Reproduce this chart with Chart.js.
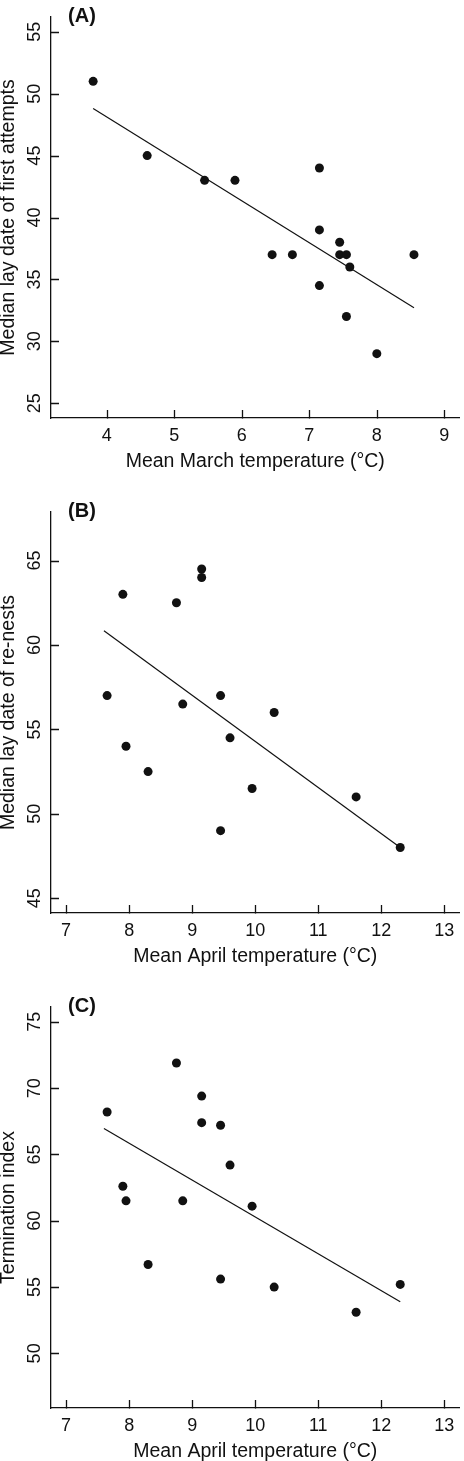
<!DOCTYPE html>
<html>
<head>
<meta charset="utf-8">
<script src="https://cdn.jsdelivr.net/npm/chart.js@4/dist/chart.umd.min.js"></script>
<style>
  html, body { margin: 0; padding: 0; background: #fff; overflow: hidden; }
  body { width: 464px; height: 1461px; position: relative; }
  canvas { position: absolute; left: 0; }
</style>
</head>
<body>
<canvas id="panelA" width="464" height="478" style="top:0px"></canvas>
<canvas id="panelB" width="464" height="478" style="top:495px"></canvas>
<canvas id="panelC" width="464" height="478" style="top:990px"></canvas>
<script>
// (A) first attempts vs March temperature
const marchTemp = [3.8, 4.6, 5.45, 5.9, 6.45, 6.75, 7.15, 7.15, 7.15, 7.45, 7.45, 7.55, 7.55, 7.6, 8.0, 8.55];
const firstLayDate = [51, 45, 43, 43, 37, 37, 44, 39, 34.5, 38, 37, 37, 32, 36, 29, 37];
const fitAX = [3.8, 8.55];
const fitAY = [48.8, 32.7];

// (B) and (C) share the April temperatures
const aprilTemp = [7.65, 7.9, 7.95, 8.3, 8.75, 8.85, 9.15, 9.15, 9.45, 9.45, 9.6, 9.95, 10.3, 11.6, 12.3];
const renestLayDate = [57, 63, 54, 52.5, 62.5, 56.5, 64.5, 64, 57, 49, 54.5, 51.5, 56, 51, 48];
const terminationIndex = [68.2, 62.6, 61.5, 56.7, 71.9, 61.5, 69.4, 67.4, 67.2, 55.6, 64.2, 61.1, 55.0, 53.1, 55.2];
const fitBX = [7.6, 12.3];
const fitBY = [60.85, 48.0];
const fitCX = [7.6, 12.3];
const fitCY = [66.95, 53.9];

const xTicksA = [4, 5, 6, 7, 8, 9];
const yTicksA = [25, 30, 35, 40, 45, 50, 55];
const xTicksApril = [7, 8, 9, 10, 11, 12, 13];
const yTicksB = [45, 50, 55, 60, 65];
const yTicksC = [50, 55, 60, 65, 70, 75];

const FONT = '"Liberation Sans", Arial, Helvetica, sans-serif';
const INK = '#111';

const toPoints = (xs, ys) => xs.map((x, i) => ({ x: x, y: ys[i] }));

// R-style axis: limits padded by 4%
const padRange = (lo, hi) => {
  const d = (hi - lo) * 0.04;
  return { min: lo - d, max: hi + d };
};

// panel letter and inward tick marks
const panelDecor = {
  id: 'panelDecor',
  afterDraw(chart, args, opts) {
    const { ctx, chartArea, scales } = chart;
    ctx.save();
    ctx.strokeStyle = INK;
    ctx.lineWidth = 1.3;
    ctx.beginPath();
    scales.x.ticks.forEach(t => {
      const px = Math.round(scales.x.getPixelForValue(t.value)) + 0.5;
      ctx.moveTo(px, chartArea.bottom + 0.5);
      ctx.lineTo(px, chartArea.bottom - 8);
    });
    scales.y.ticks.forEach(t => {
      const py = Math.round(scales.y.getPixelForValue(t.value)) + 0.5;
      ctx.moveTo(chartArea.left - 0.5, py);
      ctx.lineTo(chartArea.left + 8, py);
    });
    ctx.stroke();

    ctx.font = 'bold 20px ' + FONT;
    ctx.fillStyle = INK;
    ctx.textAlign = 'center';
    ctx.textBaseline = 'middle';
    ctx.fillText(opts.text, chartArea.left + 31, chartArea.top - 1);
    ctx.restore();
  }
};

const noMargins = s => {
  s.paddingTop = 0;
  s.paddingBottom = 0;
  s.paddingLeft = 0;
  s.paddingRight = 0;
};

const makePanel = (id, label, xs, ys, fx, fy, xLim, yLim, xTicks, yTicks, xTitle, yTitle) => new Chart(document.getElementById(id), {
  type: 'scatter',
  data: {
    datasets: [{
      data: toPoints(xs, ys),
      backgroundColor: INK,
      borderWidth: 0,
      pointRadius: 4.5,
      pointHoverRadius: 4.5
    }, {
      type: 'line',
      data: toPoints(fx, fy),
      borderColor: INK,
      borderWidth: 1.2,
      pointRadius: 0,
      fill: false
    }]
  },
  options: {
    responsive: false,
    animation: false,
    events: [],
    layout: { padding: { top: 17, right: 4, left: 0, bottom: 0 } },
    plugins: {
      legend: { display: false },
      tooltip: { enabled: false },
      panelDecor: { text: label }
    },
    scales: {
      x: {
        type: 'linear',
        position: 'bottom',
        min: padRange(xLim[0], xLim[1]).min,
        max: padRange(xLim[0], xLim[1]).max,
        afterBuildTicks: s => { s.ticks = xTicks.map(v => ({ value: v })); },
        afterFit: s => { s.height = 60; noMargins(s); },
        border: { display: true, color: INK, width: 1.3 },
        grid: { display: false, drawTicks: false },
        ticks: { color: INK, padding: 7, maxRotation: 0, font: { family: FONT, size: 18 } },
        title: {
          display: true, text: xTitle, color: INK,
          font: { family: FONT, size: 19.5, lineHeight: 1 },
          padding: { top: 0, bottom: 7 }
        }
      },
      y: {
        type: 'linear',
        min: padRange(yLim[0], yLim[1]).min,
        max: padRange(yLim[0], yLim[1]).max,
        afterBuildTicks: s => { s.ticks = yTicks.map(v => ({ value: v })); },
        afterFit: s => { s.width = 51; noMargins(s); },
        border: { display: true, color: INK, width: 1.3 },
        grid: { display: false, drawTicks: false },
        ticks: { color: INK, padding: 6, minRotation: 90, maxRotation: 90, crossAlign: 'center', font: { family: FONT, size: 18 } },
        title: {
          display: true, text: yTitle, color: INK,
          font: { family: FONT, size: 19.5, lineHeight: 1 },
          padding: { top: -1, bottom: 0 }
        }
      }
    }
  },
  plugins: [panelDecor]
});

makePanel('panelA', '(A)', marchTemp, firstLayDate, fitAX, fitAY, [3.4, 9.0], [25, 55],
  xTicksA, yTicksA, 'Mean March temperature (°C)', 'Median lay date of first attempts');
makePanel('panelB', '(B)', aprilTemp, renestLayDate, fitBX, fitBY, [7, 13], [45, 67],
  xTicksApril, yTicksB, 'Mean April temperature (°C)', 'Median lay date of re-nests');
makePanel('panelC', '(C)', aprilTemp, terminationIndex, fitCX, fitCY, [7, 13], [47, 75],
  xTicksApril, yTicksC, 'Mean April temperature (°C)', 'Termination index');
</script>
</body>
</html>
